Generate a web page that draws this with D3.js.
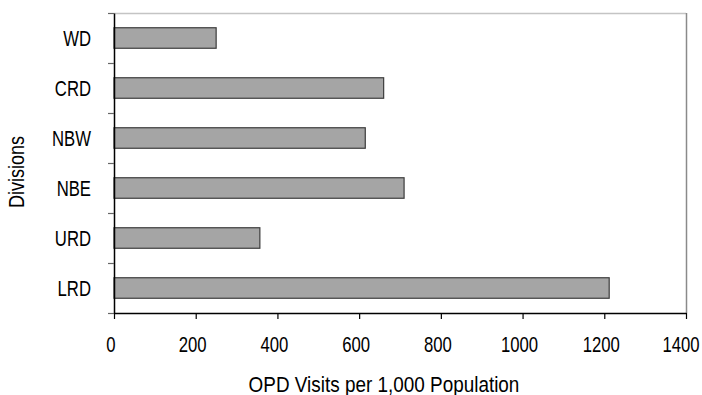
<!DOCTYPE html>
<html>
<head>
<meta charset="utf-8">
<script src="https://cdn.jsdelivr.net/npm/d3@7"></script>
<style>
  html, body { margin: 0; padding: 0; background: #fff; }
  svg { display: block; }
  text { font-family: "Liberation Sans", Arial, sans-serif; fill: #000; }
</style>
</head>
<body>
<svg id="chart" width="702" height="395"></svg>
<script>
// OPD visits per 1,000 population by division
const divisions = ["WD", "CRD", "NBW", "NBE", "URD", "LRD"];
const visits = [250, 660, 615, 710, 357, 1212];
const xTicks = [0, 200, 400, 600, 800, 1000, 1200, 1400];

const svg = d3.select("#chart");
const plotLeft = 114, plotRight = 686, plotTop = 13, plotBottom = 313;
const fontSize = 22;
const narrow = 0.76; // horizontal squeeze for a condensed look

const x = d3.scaleLinear().domain([0, 1400]).range([plotLeft, plotRight]);
const y = d3.scaleBand().domain(divisions).range([plotTop, plotBottom])
  .paddingInner(0.59).paddingOuter(0.295);
const yEdge = d3.scaleLinear().domain([0, divisions.length]).range([plotBottom, plotTop]);

// plot frame (top and right)
svg.append("line").attr("x1", plotLeft).attr("x2", plotRight).attr("y1", plotTop + 0.5).attr("y2", plotTop + 0.5)
  .attr("stroke", "#c4c4c4").attr("stroke-width", 1.5);
svg.append("line").attr("x1", plotRight + 0.5).attr("x2", plotRight + 0.5).attr("y1", plotTop).attr("y2", plotBottom)
  .attr("stroke", "#8a8a8a").attr("stroke-width", 1.5);

// bars
svg.append("g").selectAll("rect").data(divisions).join("rect")
  .attr("x", x(0))
  .attr("y", d => y(d))
  .attr("width", (d, i) => x(visits[i]) - x(0))
  .attr("height", y.bandwidth())
  .attr("fill", "#a5a5a5")
  .attr("stroke", "#3c3c3c")
  .attr("stroke-width", 1.2);

// y axis with ticks on band edges
const yAxis = svg.append("g").attr("transform", `translate(${plotLeft},0)`)
  .call(d3.axisLeft(yEdge).tickValues(d3.range(divisions.length + 1)).tickFormat("").tickSize(6).tickSizeOuter(0));
yAxis.select(".domain").attr("stroke", "#000").attr("stroke-width", 1.5);
yAxis.selectAll(".tick line").attr("stroke", "#666").attr("stroke-width", 1.2);

// x axis; labels sit slightly left of their ticks, the last one pulled in from the edge
const xAxis = svg.append("g").attr("transform", `translate(0,${plotBottom})`)
  .call(d3.axisBottom(x).tickValues(xTicks).tickSize(6).tickSizeOuter(0).tickFormat(d3.format("d")));
xAxis.attr("font-family", null).attr("font-size", null);
xAxis.select(".domain").attr("stroke", "#000").attr("stroke-width", 1.5);
xAxis.selectAll(".tick line").attr("stroke", "#000").attr("stroke-width", 1.2);
xAxis.selectAll(".tick text")
  .attr("x", 0).attr("y", 0).attr("dy", 0)
  .attr("transform", (d, i) => `translate(${i === xTicks.length - 1 ? -5.5 : -3.5},39) scale(${narrow},1)`)
  .attr("font-size", fontSize);

// category labels
svg.append("g").selectAll("text").data(divisions).join("text")
  .attr("transform", d => `translate(91,${y(d) + y.bandwidth() / 2 + 7.5}) scale(${narrow},1)`)
  .attr("text-anchor", "end")
  .attr("font-size", fontSize)
  .text(d => d);

// axis titles
svg.append("text").attr("transform", `translate(384,392) scale(0.86,1)`).attr("text-anchor", "middle")
  .attr("font-size", fontSize).text("OPD Visits per 1,000 Population");
svg.append("text").attr("transform", `translate(24,172) rotate(-90) scale(0.82,1)`).attr("text-anchor", "middle")
  .attr("font-size", fontSize).text("Divisions");
</script>
</body>
</html>
